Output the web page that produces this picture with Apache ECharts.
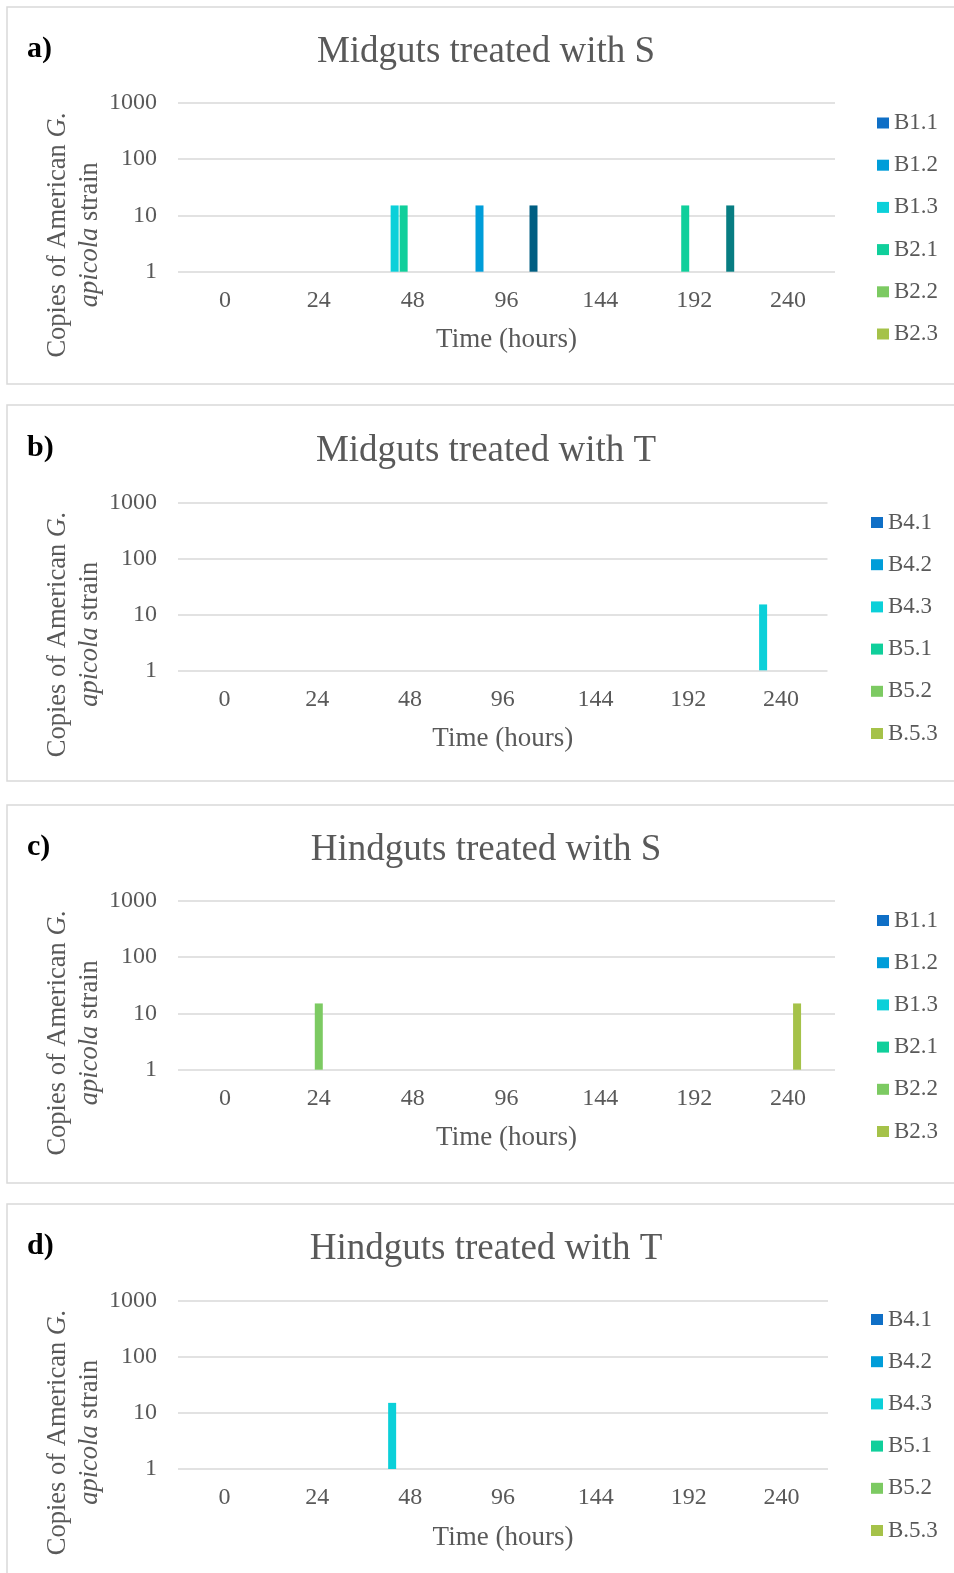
<!DOCTYPE html>
<html>
<head>
<meta charset="utf-8">
<title>American G. apicola strain copies</title>
<script src="https://cdn.jsdelivr.net/npm/echarts@6/dist/echarts.min.js"></script>
<style>
  html, body { margin: 0; padding: 0; background: #fff; }
  #chart { width: 954px; height: 1573px; }
</style>
</head>
<body>
<div id="chart"></div>
<script>
// 横轴类别（小时）
var hours = ['0', '24', '48', '96', '144', '192', '240'];
// 纵轴刻度（对数）
var yTicks = [1, 10, 100, 1000];
// 系列名称
var namesS = ['B1.1', 'B1.2', 'B1.3', 'B2.1', 'B2.2', 'B2.3', 'B3.1', 'B3.2', 'B3.3'];
var namesT = ['B4.1', 'B4.2', 'B4.3', 'B5.1', 'B5.2', 'B.5.3', 'B6.1', 'B6.2', 'B6.3'];
// 系列颜色
var colors = ['#0F6FC6', '#009DD9', '#0BD0D9', '#10CF9B', '#7CCA62', '#A5C249', '#094377', '#005E82', '#077D82'];

// 每个面板的数值，每行一个系列，顺序同上
var midgutS = [
	[null, null, null, null, null, null, null],
	[null, null, null, 15, null, null, null],
	[null, null, 15, null, null, null, null],
	[null, null, 15, null, null, 15, null],
	[null, null, null, null, null, null, null],
	[null, null, null, null, null, null, null],
	[null, null, null, null, null, null, null],
	[null, null, null, 15, null, null, null],
	[null, null, null, null, null, 15, null]
];
var midgutT = [
	[null, null, null, null, null, null, null],
	[null, null, null, null, null, null, null],
	[null, null, null, null, null, null, 15],
	[null, null, null, null, null, null, null],
	[null, null, null, null, null, null, null],
	[null, null, null, null, null, null, null],
	[null, null, null, null, null, null, null],
	[null, null, null, null, null, null, null],
	[null, null, null, null, null, null, null]
];
var hindgutS = [
	[null, null, null, null, null, null, null],
	[null, null, null, null, null, null, null],
	[null, null, null, null, null, null, null],
	[null, null, null, null, null, null, null],
	[null, 15, null, null, null, null, null],
	[null, null, null, null, null, null, 15],
	[null, null, null, null, null, null, null],
	[null, null, null, null, null, null, null],
	[null, null, null, null, null, null, null]
];
var hindgutT = [
	[null, null, null, null, null, null, null],
	[null, null, null, null, null, null, null],
	[null, null, 15, null, null, null, null],
	[null, null, null, null, null, null, null],
	[null, null, null, null, null, null, null],
	[null, null, null, null, null, null, null],
	[null, null, null, null, null, null, null],
	[null, null, null, null, null, null, null],
	[null, null, null, null, null, null, null]
];

var serif = '"Liberation Serif", "Times New Roman", serif';
var grey = '#595959';

// 面板布局
var panels = [
	{tag: 'a)', title: 'Midguts treated with S', names: namesS, values: midgutS, boxTop: 7, boxH: 377, titleY: 49, gridTop: 102.7, gridH: 169, gridW: 657, legendLeft: 877, legendY: 123},
	{tag: 'b)', title: 'Midguts treated with T', names: namesT, values: midgutT, boxTop: 405, boxH: 376, titleY: 448, gridTop: 502.3, gridH: 168, gridW: 649.5, legendLeft: 871, legendY: 522.5},
	{tag: 'c)', title: 'Hindguts treated with S', names: namesS, values: hindgutS, boxTop: 805, boxH: 378, titleY: 847, gridTop: 900.7, gridH: 169, gridW: 657, legendLeft: 877, legendY: 920.5},
	{tag: 'd)', title: 'Hindguts treated with T', names: namesT, values: hindgutT, boxTop: 1204, boxH: 420, titleY: 1246.5, gridTop: 1300.3, gridH: 168.7, gridW: 650, legendLeft: 871, legendY: 1319.5}
];

var grids = [], xAxes = [], yAxes = [], series = [], legends = [], titles = [], graphics = [];

panels.forEach(function(p, i) {
	//边框
	graphics.push({
		type: 'rect',
		shape: {x: 7, y: p.boxTop, width: 1000, height: p.boxH},
		style: {fill: null, stroke: '#d9d9d9', lineWidth: 1.5},
		z: 0
	});
	//纵轴标题（两行，部分斜体）
	graphics.push({
		type: 'text',
		x: 74.5,
		y: p.gridTop + 132,
		rotation: Math.PI / 2,
		style: {
			text: '{n|Copies of American }{i|G.}\n{i|apicola}{n| strain}',
			align: 'center',
			verticalAlign: 'middle',
			rich: {
				n: {fontSize: 26.5, fontFamily: serif, fill: grey, lineHeight: 32},
				i: {fontSize: 26.5, fontFamily: serif, fontStyle: 'italic', fill: grey, lineHeight: 32}
			}
		}
	});
	titles.push({
		text: p.tag,
		left: 27,
		top: p.titleY - 15,
		padding: 0,
		textStyle: {fontFamily: serif, fontSize: 30, fontWeight: 'bold', color: '#000', lineHeight: 30}
	});
	titles.push({
		text: p.title,
		left: 486,
		textAlign: 'center',
		top: p.titleY - 17,
		padding: 0,
		textStyle: {fontFamily: serif, fontSize: 37, fontWeight: 'normal', color: grey, lineHeight: 40}
	});
	grids.push({left: 178, top: p.gridTop, width: p.gridW, height: p.gridH});
	xAxes.push({
		type: 'category',
		gridIndex: i,
		data: hours,
		axisLine: {show: false},
		axisTick: {show: false},
		axisLabel: {fontFamily: serif, fontSize: 24, color: grey, margin: 17},
		name: 'Time (hours)',
		nameLocation: 'middle',
		nameGap: 55,
		nameTextStyle: {fontFamily: serif, fontSize: 27, color: grey}
	});
	yAxes.push({
		type: 'log',
		logBase: 10,
		gridIndex: i,
		min: yTicks[0],
		max: yTicks[yTicks.length - 1],
		axisLine: {show: false},
		axisTick: {show: false},
		axisLabel: {
			fontFamily: serif, fontSize: 24, color: grey, margin: 21,
			formatter: function(v) { return String(Math.round(v)); }
		},
		splitLine: {lineStyle: {color: '#d9d9d9', width: 1.5}}
	});
	legends.push({
		orient: 'vertical',
		left: p.legendLeft,
		top: p.legendY - 11.5,
		padding: 0,
		icon: 'rect',
		itemWidth: 12,
		itemHeight: 11,
		itemGap: 19.2,
		data: p.names.slice(0, 6),
		textStyle: {fontFamily: serif, fontSize: 23, lineHeight: 23, color: grey},
		selectedMode: false
	});
	for(var k = 0; k < p.names.length; k++) {
		series.push({
			name: p.names[k],
			type: 'bar',
			xAxisIndex: i,
			yAxisIndex: i,
			barWidth: 8,
			barGap: '12.5%',
			itemStyle: {color: colors[k]},
			data: p.values[k]
		});
	}
});

var myChart = echarts.init(document.getElementById('chart'));
var option = {
	backgroundColor: '#fff',
	animation: false,
	title: titles,
	grid: grids,
	xAxis: xAxes,
	yAxis: yAxes,
	legend: legends,
	graphic: graphics,
	series: series
};
myChart.setOption(option);
</script>
</body>
</html>
